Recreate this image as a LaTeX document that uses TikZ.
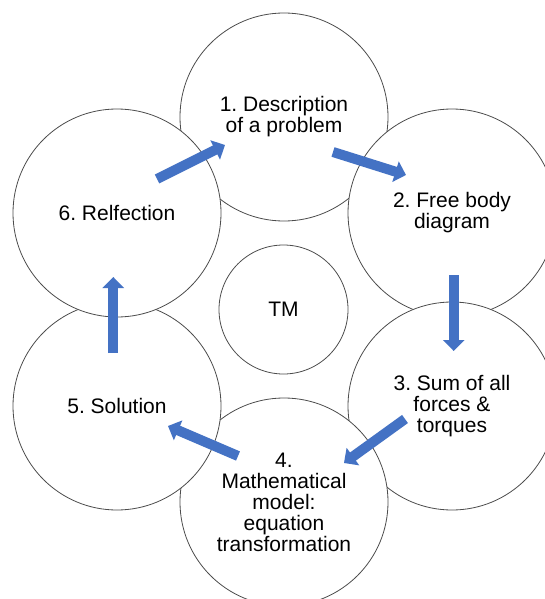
\documentclass[tikz,border=0pt]{standalone}
\usepackage{fontspec}
\setmainfont{Liberation Sans}
\usepackage{tikz}
\usetikzlibrary{arrows.meta}
\definecolor{cycleblue}{HTML}{4472C4}
\frenchspacing
\tikzset{every picture/.style={/utils/exec={\fontsize{21}{21}\selectfont}}}
\tikzstyle{stage}=[circle,draw=black!70,line width=0.8pt,fill=white,minimum size=208pt,inner sep=0pt,align=center,font=\fontsize{21}{21}\selectfont]
\tikzstyle{hub}=[stage,minimum size=129pt]
\tikzstyle{flow}=[draw=cycleblue,line width=10pt,-{Triangle[width=21pt,length=11pt]}]
\begin{document}
\begin{tikzpicture}[x=1pt,y=-1pt]
    \useasboundingbox (0,0) rectangle (544,599);
    \node[hub] (TM) at (283.5,309.5) {TM};
    % steps in order, each one lying over the one before
    \node[stage] (S1) at (284,117) {1. Description\\of a problem};
    \node[stage] (S2) at (452,213) {2. Free body\\diagram};
    \node[stage] (S3) at (452,406) {3. Sum of all\\forces \&\\torques};
    \node[stage] (S4) at (284,502) {4.\\Mathematical\\model:\\equation\\transformation};
    \node[stage] (S5) at (117,406) {5. Solution};
    \node[stage] (S6) at (117,213) {6. Relfection};
    % arrow ends
    \coordinate (T1) at (333,152);   \coordinate (H1) at (406,175);
    \coordinate (T2) at (453.7,275); \coordinate (H2) at (453.7,351);
    \coordinate (T3) at (405,419);   \coordinate (H3) at (344,463);
    \coordinate (T4) at (238,456);   \coordinate (H4) at (168,426);
    \coordinate (T5) at (113.3,353); \coordinate (H5) at (113.3,277);
    \coordinate (T6) at (157,179);   \coordinate (H6) at (225,145);
    \foreach \i in {1,...,6} {
      \draw[flow] (T\i) -- (H\i);
    }
  \end{tikzpicture}
\end{document}
